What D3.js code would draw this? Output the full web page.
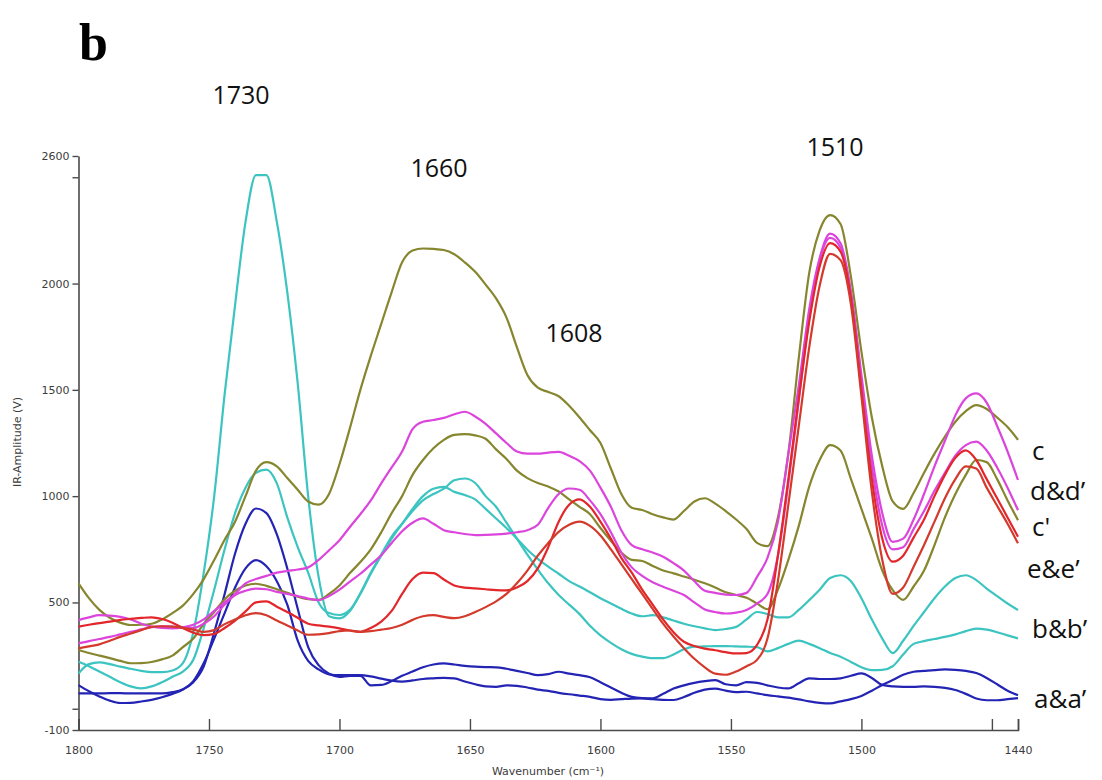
<!DOCTYPE html>
<html>
<head>
<meta charset="utf-8">
<script src="https://cdn.jsdelivr.net/npm/d3@7"></script>
<style>
  html, body { margin: 0; padding: 0; background: #fff; }
  svg { display: block; }
</style>
</head>
<body>
<svg id="chart" width="1102" height="780"></svg>
<script>
// Wavenumber grid (cm-1), sampled every 4 cm-1 from 1800 down to 1440
const wavenumbers = d3.range(1800, 1439, -4);

// IR amplitude (V) for each spectrum, one value per wavenumber above
const seriesA = [72,72,72,73,73,72,72,72,72,78,92,125,200,360,540,730,870,942,920,820,660,470,290,205,165,150,155,155,110,112,130,155,175,195,208,213,208,202,198,196,195,188,178,168,158,163,174,165,158,148,125,100,75,56,50,49,70,95,110,122,130,135,115,110,125,122,110,100,96,120,143,140,140,143,155,166,145,112,105,103,103,105,103,98,88,70,48,40,40,45,50];
const seriesAPrime = [111,82,58,38,27,28,34,42,54,70,90,130,215,330,450,570,660,699,670,600,490,320,225,185,162,158,158,158,152,142,132,128,133,140,143,145,143,128,115,105,103,110,108,100,90,84,75,68,62,56,45,42,45,48,49,45,42,41,55,75,90,95,85,78,80,72,64,58,52,44,35,28,25,35,45,60,85,112,135,160,174,178,182,185,183,178,168,145,115,85,64];
const seriesB = [166,210,218,210,198,188,178,172,172,180,215,360,640,1000,1480,1900,2290,2510,2510,2290,1960,1530,1000,620,435,425,460,543,640,725,810,870,930,980,1010,1035,1075,1083,1062,1000,950,875,800,725,655,590,535,490,445,390,345,310,280,258,245,238,238,255,280,292,293,295,295,293,292,290,270,285,305,320,305,285,262,245,220,195,182,183,200,255,305,318,328,338,350,365,377,372,360,345,331];
const seriesBPrime = [221,200,175,150,125,105,96,105,125,150,175,230,380,560,750,920,1040,1110,1125,1060,900,760,640,500,450,441,465,540,635,720,800,870,940,1000,1035,1044,1020,1005,985,940,895,850,800,748,705,668,635,600,575,548,520,495,470,448,435,440,430,415,400,388,378,370,375,385,420,455,445,430,430,465,511,560,615,628,600,520,420,330,262,320,390,455,520,575,615,628,605,565,530,495,464];
const seriesC = [590,520,465,428,405,394,395,400,420,450,485,540,610,700,795,880,1000,1120,1160,1140,1085,1030,975,960,1010,1150,1320,1500,1660,1810,1960,2100,2155,2165,2163,2158,2138,2100,2055,1995,1930,1840,1700,1570,1510,1490,1470,1425,1370,1310,1250,1130,1010,945,935,915,900,890,930,975,990,965,930,890,845,780,765,900,1200,1650,2050,2250,2322,2280,2030,1680,1370,1140,975,940,1015,1110,1200,1280,1350,1400,1428,1410,1370,1325,1265];
const seriesCPrime = [276,262,250,238,225,214,215,220,232,250,290,330,400,455,515,555,580,588,578,562,545,527,515,512,540,580,638,690,750,830,920,1000,1100,1170,1225,1265,1288,1292,1286,1270,1220,1175,1120,1085,1062,1045,1022,985,950,915,850,790,735,700,695,672,650,637,622,607,590,570,548,535,522,495,468,560,700,860,1045,1170,1240,1215,1080,940,800,650,558,512,575,650,770,900,1010,1100,1170,1160,1080,980,887];
const seriesD = [417,430,440,438,432,420,400,387,380,378,383,395,420,460,500,540,590,610,625,640,648,655,665,700,745,793,855,915,980,1060,1135,1210,1315,1350,1358,1368,1385,1397,1375,1340,1295,1250,1210,1200,1200,1205,1208,1190,1165,1120,1040,950,840,770,750,735,715,685,650,600,555,545,537,535,545,620,710,880,1200,1520,1880,2120,2235,2190,1960,1570,1190,920,785,800,890,1010,1140,1260,1380,1460,1483,1440,1330,1210,1076];
const seriesDPrime = [307,318,328,338,350,362,373,384,387,386,383,380,400,435,490,535,555,565,562,550,540,530,518,511,530,560,598,635,678,722,780,835,875,895,870,840,830,822,817,818,820,824,830,840,865,945,1010,1036,1030,980,915,830,735,665,625,595,574,555,535,500,467,455,448,452,465,495,540,720,1060,1450,1840,2110,2215,2170,1950,1540,1140,860,750,760,845,930,1025,1110,1190,1240,1256,1215,1135,1040,934];
const seriesE = [386,395,403,410,418,423,427,430,422,405,380,358,346,352,380,415,458,500,505,480,455,428,400,392,386,378,368,362,380,410,460,540,610,640,638,608,580,570,566,562,558,557,570,600,660,760,880,960,985,950,880,800,710,640,560,490,420,360,315,295,283,275,266,260,262,300,420,720,1080,1460,1820,2080,2190,2150,1930,1500,1080,800,692,720,805,890,1000,1100,1180,1215,1170,1080,990,900,809];
const seriesEPrime = [284,293,303,320,338,354,370,385,388,386,380,372,362,370,398,420,440,450,440,415,392,368,348,350,356,365,368,362,365,372,380,395,418,435,440,432,426,435,455,478,505,540,590,650,720,780,832,865,880,860,815,750,680,610,540,470,400,340,285,235,195,165,160,175,200,230,330,600,960,1330,1700,1990,2140,2110,1900,1470,1020,700,540,570,668,770,880,990,1080,1140,1130,1040,955,870,778];

// Spectrum names and line colours
const seriesNames = ["a", "a'", "b", "b'", "c", "c'", "d", "d'", "e", "e'"];
const seriesColors = ["#2424b4", "#2424b4", "#3cc4c0", "#3cc4c0", "#86862e", "#86862e", "#dc45dc", "#dc45dc", "#e2262a", "#d43a2c"];
const seriesValues = [seriesA, seriesAPrime, seriesB, seriesBPrime, seriesC, seriesCPrime, seriesD, seriesDPrime, seriesE, seriesEPrime];

// Axis ticks
const xTickValues = [1800, 1750, 1700, 1650, 1600, 1550, 1500, 1450, 1440];
const xTickLabels = ["1800", "1750", "1700", "1650", "1600", "1550", "1500", "", "1440"];
const yTickValues = [-100, 0, 500, 1000, 1500, 2000, 2500, 2600];
const yTickLabels = ["-100", "", "500", "1000", "1500", "2000", "", "2600"];

// Band annotations and group labels
const bandLabels = ["1730", "1660", "1608", "1510"];
const groupLabels = ["c", "d&d\u2019", "c'", "e&e\u2019", "b&b\u2019", "a&a\u2019"];

const svg = d3.select("#chart");

const x = d3.scaleLinear().domain([1800, 1440]).range([78.5, 1018]);
const y = d3.scaleLinear().domain([-100, 2600]).range([730, 156]);

const axisColor = "#4a4a4a";
const tickFont = "DejaVu Sans, Verdana, sans-serif";

// X axis: ticks point up into the plot
const xAxis = d3.axisBottom(x)
  .tickValues(xTickValues)
  .tickSize(-11)
  .tickPadding(16)
  .tickFormat((d, i) => xTickLabels[i]);
const gx = svg.append("g").attr("transform", "translate(0,730)").call(xAxis);
gx.select(".domain").attr("stroke", axisColor).attr("stroke-width", 1.6);
gx.selectAll(".tick line").attr("stroke", axisColor).attr("stroke-width", 1.4);
gx.selectAll(".tick text").attr("font-family", tickFont).attr("font-size", 11).attr("fill", "#3c3c3c");

// Y axis: ticks point outward
const yAxis = d3.axisLeft(y)
  .tickValues(yTickValues)
  .tickSize(6)
  .tickSizeOuter(0)
  .tickPadding(3)
  .tickFormat((d, i) => yTickLabels[i]);
const gy = svg.append("g").attr("transform", "translate(78.5,0)").call(yAxis);
gy.select(".domain").attr("stroke", axisColor).attr("stroke-width", 1.6);
gy.selectAll(".tick line").attr("stroke", axisColor).attr("stroke-width", 1.4);
gy.selectAll(".tick text").attr("font-family", tickFont).attr("font-size", 11).attr("fill", "#3c3c3c");

// Axis titles
svg.append("text")
  .attr("x", 548).attr("y", 775)
  .attr("text-anchor", "middle")
  .attr("font-family", tickFont).attr("font-size", 11).attr("fill", "#3c3c3c")
  .text("Wavenumber (cm\u207B\u00B9)");

svg.append("text")
  .attr("transform", "translate(21,442) rotate(-90)")
  .attr("text-anchor", "middle")
  .attr("font-family", tickFont).attr("font-size", 11).attr("fill", "#3c3c3c")
  .text("IR-Amplitude (V)");

// Spectra
const line = d3.line()
  .x((d, i) => x(wavenumbers[i]))
  .y(d => y(d))
  .curve(d3.curveMonotoneX);

svg.append("g")
  .selectAll("path")
  .data(seriesValues)
  .join("path")
  .attr("d", d => line(d))
  .attr("fill", "none")
  .attr("stroke", (d, i) => seriesColors[i])
  .attr("stroke-width", 2.2)
  .attr("stroke-linejoin", "round")
  .attr("data-name", (d, i) => seriesNames[i]);

// Panel letter
svg.append("text")
  .attr("x", 79).attr("y", 60)
  .attr("font-family", "Liberation Serif, Times New Roman, serif")
  .attr("font-weight", "bold").attr("font-size", 52)
  .text("b");

// Band position annotations
const bandPos = [[241, 104], [439, 177], [574, 342], [835, 156]];
svg.append("g")
  .selectAll("text")
  .data(bandLabels)
  .join("text")
  .attr("x", (d, i) => bandPos[i][0])
  .attr("y", (d, i) => bandPos[i][1])
  .attr("text-anchor", "middle")
  .attr("font-family", "Open Sans, Noto Sans, sans-serif")
  .attr("font-size", 25)
  .attr("fill", "#111")
  .text(d => d);

// Group labels at the right edge
const groupPos = [[1032, 460], [1030, 500], [1032, 536], [1027, 578], [1032, 638], [1034, 708]];
svg.append("g")
  .selectAll("text")
  .data(groupLabels)
  .join("text")
  .attr("x", (d, i) => groupPos[i][0])
  .attr("y", (d, i) => groupPos[i][1])
  .attr("font-family", "Open Sans, Noto Sans, sans-serif")
  .attr("font-size", 26)
  .attr("fill", "#111")
  .text(d => d);
</script>
</body>
</html>
